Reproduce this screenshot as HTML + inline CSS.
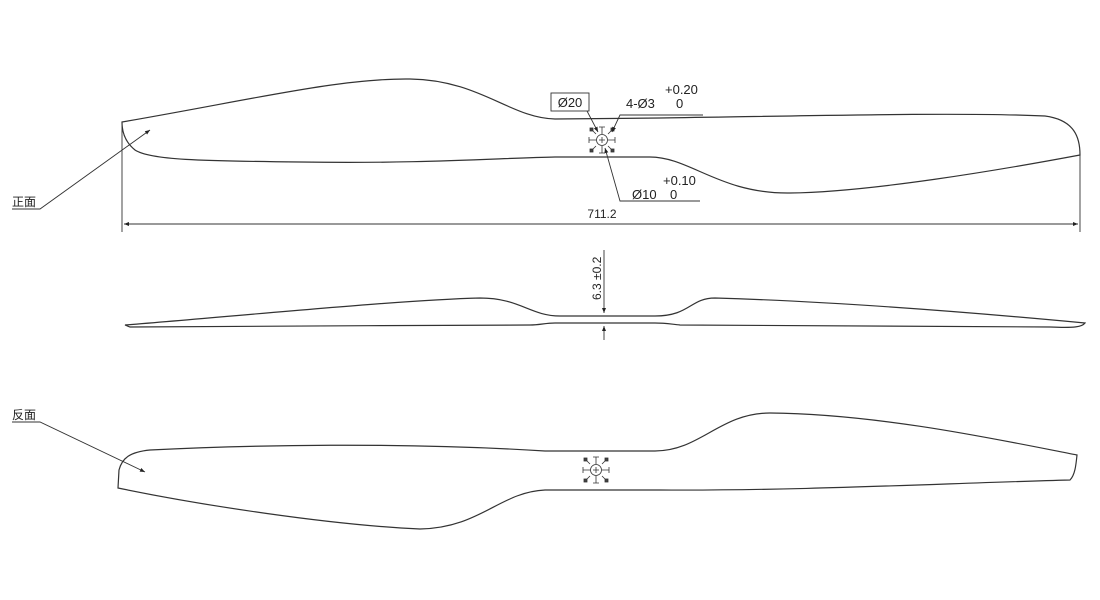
<!DOCTYPE html>
<html><head><meta charset="utf-8"><style>
body{margin:0;background:#fff;width:1100px;height:600px;overflow:hidden}
svg{display:block}
text{font-family:"Liberation Sans","Noto Sans CJK SC",sans-serif;fill:#222}
</style></head><body>
<svg width="1100" height="600" viewBox="0 0 1100 600">
<defs>
<marker id="a" viewBox="0 0 10 10" refX="10" refY="5" markerWidth="9" markerHeight="5" orient="auto-start-reverse" markerUnits="userSpaceOnUse"><path d="M0,1 L10,5 L0,9z" fill="#222"/></marker>
<g id="hub" stroke="#333" stroke-width="0.8" fill="none">
<circle r="5.5"/><path d="M-3,0h6M0,-3v6"/>
<path d="M0,-6v-7M-3,-13h6M0,6v7M-3,13h6M-6,0h-7M-13,-3v6M6,0h7M13,-3v6"/>
<path d="M-6,-6l-5,-5M6,-6l5,-5M-6,6l-5,5M6,6l5,5"/>
<rect x="-12" y="-12" width="3" height="3" fill="#444"/><rect x="9" y="-12" width="3" height="3" fill="#444"/><rect x="-12" y="9" width="3" height="3" fill="#444"/><rect x="9" y="9" width="3" height="3" fill="#444"/>
</g>
</defs>
<g fill="none" stroke="#333" stroke-width="1.2">
<path d="M122,122 C250,100 340,78 410,79 C480,80 510,118 555,119 L660,118 C800,116 960,112 1045,116 C1075,120 1080,138 1080,155 C1000,170 870,192 790,193 C720,194 690,157 650,157 L555,157 C500,158 420,164 300,162 C200,161 150,160 135,150 C125,142 122,132 122,122Z"/>
<path d="M125,325 C250,315 400,300 480,298 C520,298 530,316 560,316 L655,316 C690,316 690,298 715,298 C850,302 1000,315 1085,323 C1082,327 1075,328 1050,327 C900,326 750,325 680,325 C670,324 665,323 655,323 L555,323 C545,323 540,325 530,325 C400,325 250,327 130,327 Z"/>
<path d="M118,488 L119,470 C122,458 130,452 150,450 C250,445 400,442 545,451 L655,451 C700,451 720,413 770,413 C880,414 1000,440 1077,455 C1076,465 1075,475 1070,480 C950,483 800,491 660,490 L545,490 C500,492 480,528 420,529 C330,525 200,505 118,488Z"/>
</g>
<use href="#hub" x="602" y="140"/>
<use href="#hub" x="596" y="470"/>
<g stroke="#333" stroke-width="0.9" fill="none">
<path d="M122,122V232M1080,155V232"/>
<path d="M124,224H1078" marker-start="url(#a)" marker-end="url(#a)"/>
<path d="M12,209H40L150,130" marker-end="url(#a)"/>
<path d="M12,422H40L145,472" marker-end="url(#a)"/>
<rect x="551" y="93" width="38" height="18"/>
<path d="M587,111L598,132" marker-end="url(#a)"/>
<path d="M703,115H620L612,132" marker-end="url(#a)"/>
<path d="M700,201H620L605,148" marker-end="url(#a)"/>
<path d="M604,250V313" marker-end="url(#a)"/>
<path d="M604,340V326" marker-end="url(#a)"/>
</g>
<text x="570" y="107" font-size="13" text-anchor="middle">Ø20</text>
<text x="626" y="108" font-size="13">4-Ø3</text>
<text x="676" y="108" font-size="13">0</text>
<text x="665" y="94" font-size="13">+0.20</text>
<text x="632" y="199" font-size="13">Ø10</text>
<text x="670" y="199" font-size="13">0</text>
<text x="663" y="185" font-size="13">+0.10</text>
<text x="602" y="218" font-size="12" text-anchor="middle">711.2</text>
<text x="12" y="206" font-size="12">正面</text>
<text x="12" y="419" font-size="12">反面</text>
<text transform="translate(601,300) rotate(-90)" font-size="12">6.3 ±0.2</text>
</svg>
</body></html>
